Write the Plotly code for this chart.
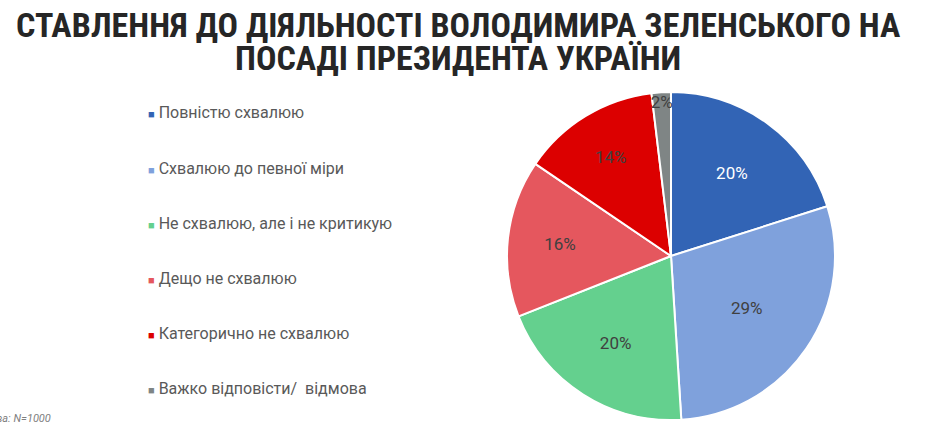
import plotly.graph_objects as go

title_lines = ["СТАВЛЕННЯ ДО ДІЯЛЬНОСТІ ВОЛОДИМИРА ЗЕЛЕНСЬКОГО НА", "ПОСАДІ ПРЕЗИДЕНТА УКРАЇНИ"]
categories = [
    "Повністю схвалюю",
    "Схвалюю до певної міри",
    "Не схвалюю, але і не критикую",
    "Дещо не схвалюю",
    "Категорично не схвалюю",
    "Важко відповісти/  відмова",
]
values = [20.1, 28.9, 20.0, 15.5, 13.6, 1.9]
colors = ["#3264B5", "#7FA1DC", "#64D08E", "#E5575E", "#DC0000", "#7F8585"]
text_colors = ["#FFFFFF", "#404040", "#404040", "#404040", "#404040", "#404040"]
footnote = "Основа: N=1000"

W, H = 932, 428
cx, cy, r = 671, 256, 164

fig = go.Figure()
fig.add_trace(go.Pie(
    labels=categories,
    values=values,
    sort=False,
    direction="clockwise",
    rotation=0,
    marker=dict(colors=colors, line=dict(color="white", width=2)),
    texttemplate="%{percent:.0%}",
    textposition="inside",
    insidetextorientation="horizontal",
    textfont=dict(family="Roboto", size=17, color=text_colors),
    showlegend=False,
    hoverinfo="label+percent",
    domain=dict(x=[(cx - r) / W, (cx + r) / W], y=[1 - (cy + r) / H, 1 - (cy - r) / H]),
))

annotations = []
for i, (line, yc) in enumerate(zip(title_lines, [25, 58])):
    annotations.append(dict(
        text=f"<b>{line}</b>", x=458 / W, y=1 - yc / H, xref="paper", yref="paper",
        xanchor="center", yanchor="middle", showarrow=False, align="center", borderpad=0,
        font=dict(family="Liberation Sans Narrow, Roboto Condensed, Roboto", size=34,
                  color="#262626")))
y0, dy = 113, 55
for i, (c, col) in enumerate(zip(categories, colors)):
    annotations.append(dict(
        text=f"<span style='color:{col};font-size:11px'>■</span> {c}",
        x=146 / W, y=1 - (y0 + i * dy) / H, xref="paper", yref="paper",
        xanchor="left", yanchor="middle", showarrow=False,
        font=dict(family="Roboto", size=16, color="#595959"),
    ))
annotations.append(dict(
    text=f"<i>{footnote}</i>", x=53 / W, y=1 - 418 / H, xref="paper", yref="paper",
    xanchor="right", yanchor="middle", showarrow=False,
    font=dict(family="Roboto", size=11, color="#7F7F7F"),
))

fig.update_layout(
    width=W, height=H,
    margin=dict(l=0, r=0, t=0, b=0),
    paper_bgcolor="white", plot_bgcolor="white",
    annotations=annotations,
    uniformtext=dict(minsize=17, mode="show"),
)
fig.write_html("out.html")
